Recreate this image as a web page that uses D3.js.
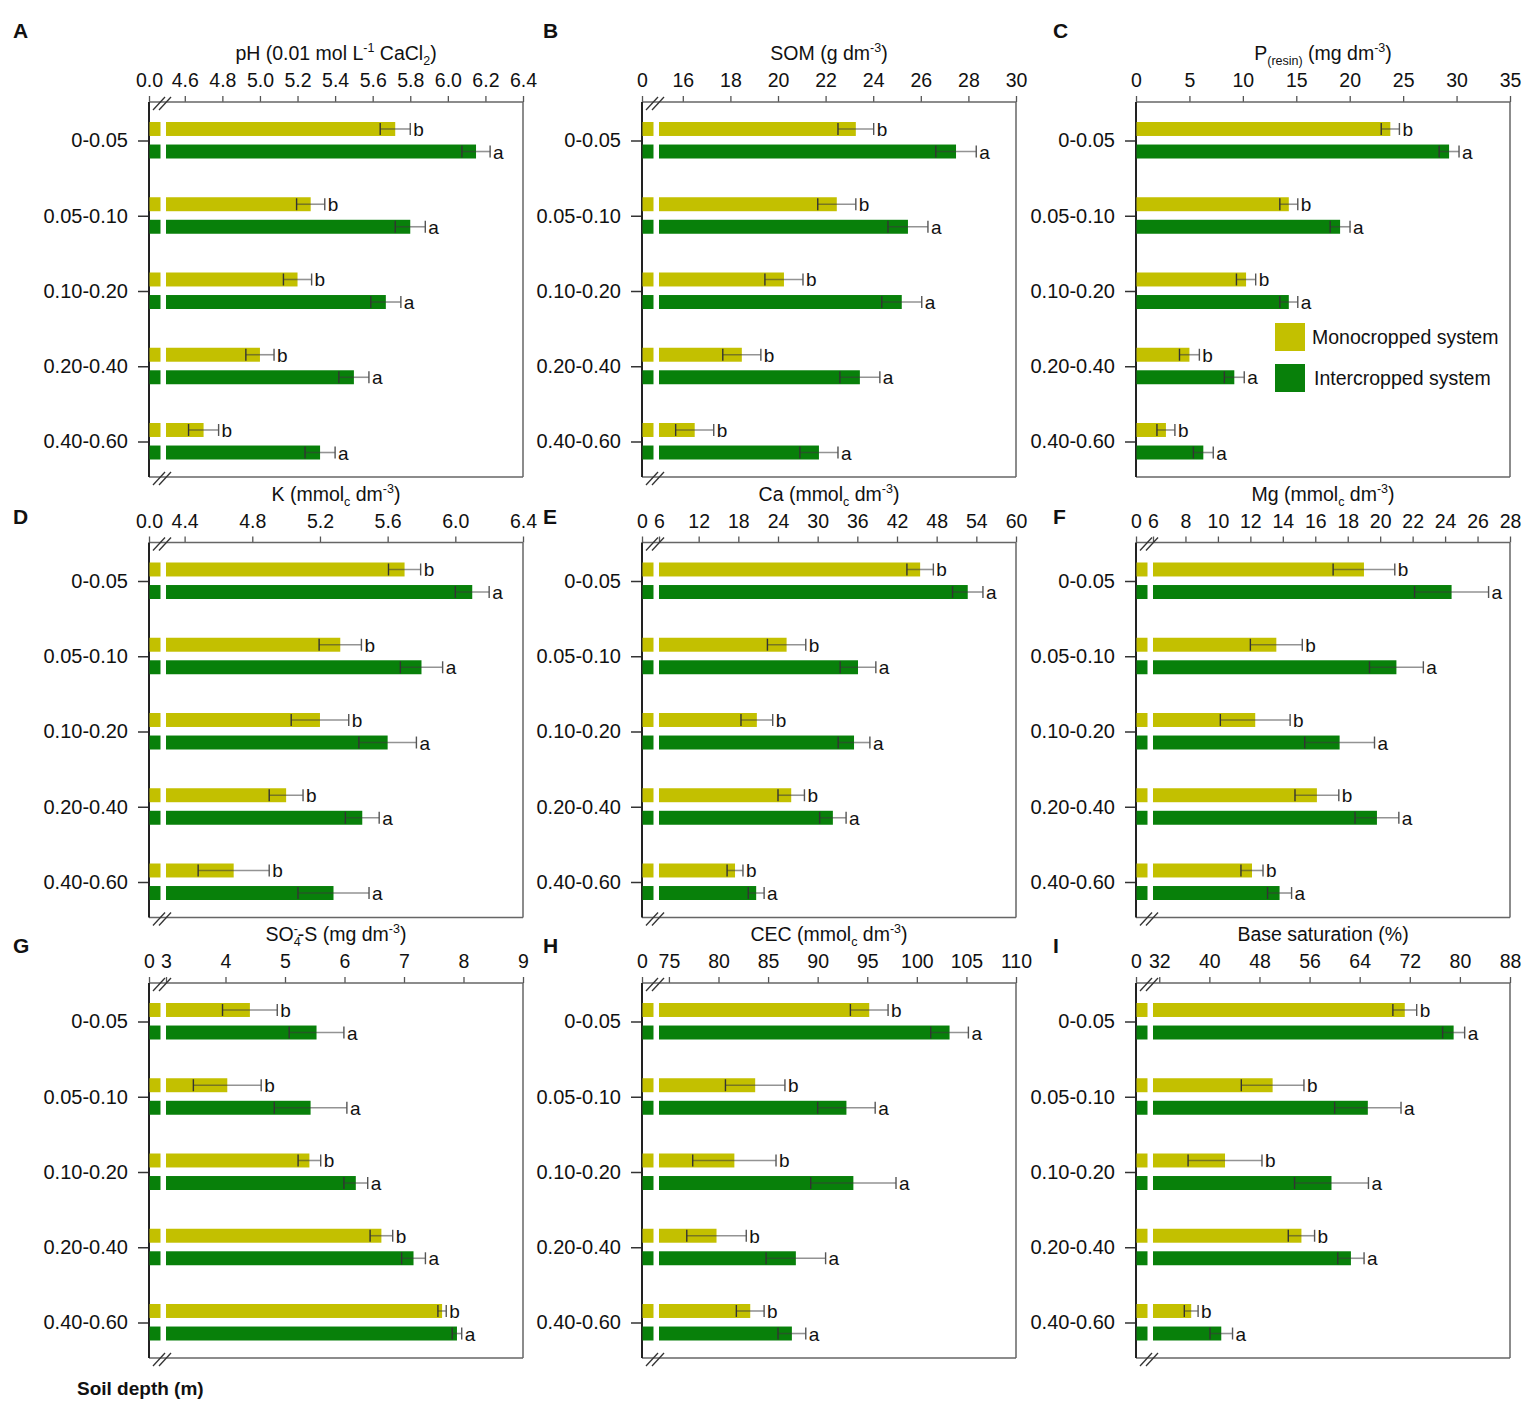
<!DOCTYPE html>
<html>
<head>
<meta charset="utf-8">
<script src="https://cdn.jsdelivr.net/npm/d3@7"></script>
<style>
  body { margin: 0; background: #fff; }
  text { font-family: "Liberation Sans", Arial, sans-serif; fill: #111; }
</style>
</head>
<body>
<div id="chart"></div>
<script>
/**
 * DATA
 * */
const depths = ["0-0.05", "0.05-0.10", "0.10-0.20", "0.20-0.40", "0.40-0.60"];
const systems = ["Monocropped system", "Intercropped system"];
const panelIds = ["A", "B", "C", "D", "E", "F", "G", "H", "I"];

// tick labels on the top axes (first entry 0 sits before the axis break)
const phTicks = [0, 4.6, 4.8, 5.0, 5.2, 5.4, 5.6, 5.8, 6.0, 6.2, 6.4];
const somTicks = [0, 16, 18, 20, 22, 24, 26, 28, 30];
const pTicks = [0, 5, 10, 15, 20, 25, 30, 35];
const kTicks = [0, 4.4, 4.8, 5.2, 5.6, 6.0, 6.4];
const caTicks = [0, 6, 12, 18, 24, 30, 36, 42, 48, 54, 60];
const mgTicks = [0, 6, 8, 10, 12, 14, 16, 18, 20, 22, 24, 26, 28];
const sTicks = [0, 3, 4, 5, 6, 7, 8, 9];
const cecTicks = [0, 75, 80, 85, 90, 95, 100, 105, 110];
const bsTicks = [0, 32, 40, 48, 56, 64, 72, 80, 88];

// value where the axis resumes after the break (null = no break)
const breakLows = [4.5, 15, null, 4.29, 6, 6, 3, 74, 31];

// means and standard errors, in depth order
const phMono = [5.72, 5.27, 5.20, 5.00, 4.70];
const phMonoSd = [0.08, 0.075, 0.075, 0.075, 0.08];
const phInter = [6.15, 5.80, 5.67, 5.50, 5.32];
const phInterSd = [0.075, 0.08, 0.08, 0.08, 0.08];

const somMono = [23.27, 22.47, 20.25, 18.48, 16.5];
const somMonoSd = [0.75, 0.8, 0.8, 0.8, 0.8];
const somInter = [27.48, 25.46, 25.2, 23.44, 21.72];
const somInterSd = [0.85, 0.84, 0.84, 0.84, 0.8];

const pMono = [23.8, 14.3, 10.3, 5.0, 2.8];
const pMonoSd = [0.85, 0.84, 0.9, 0.93, 0.84];
const pInter = [29.3, 19.1, 14.3, 9.2, 6.3];
const pInterSd = [0.93, 0.93, 0.84, 0.93, 0.93];

const kMono = [5.70, 5.32, 5.20, 5.00, 4.69];
const kMonoSd = [0.095, 0.125, 0.17, 0.1, 0.21];
const kInter = [6.10, 5.80, 5.60, 5.45, 5.28];
const kInterSd = [0.1, 0.125, 0.17, 0.1, 0.21];

const caMono = [45.5, 25.3, 20.8, 26.0, 17.5];
const caMonoSd = [2.0, 2.9, 2.4, 2.0, 1.2];
const caInter = [52.7, 36.1, 35.5, 32.3, 20.7];
const caInterSd = [2.3, 2.7, 2.4, 2.0, 1.2];

const mgMono = [19.0, 13.6, 12.3, 16.1, 12.1];
const mgMonoSd = [1.9, 1.6, 2.15, 1.35, 0.68];
const mgInter = [24.4, 21.0, 17.5, 19.8, 13.8];
const mgInterSd = [2.28, 1.66, 2.15, 1.35, 0.74];

const sMono = [4.41, 4.03, 5.41, 6.62, 7.64];
const sMonoSd = [0.46, 0.57, 0.19, 0.19, 0.07];
const sInter = [5.53, 5.43, 6.19, 7.16, 7.89];
const sInterSd = [0.46, 0.61, 0.2, 0.2, 0.08];

const cecMono = [95.2, 83.7, 81.6, 79.8, 83.2];
const cecMonoSd = [1.9, 3.0, 4.2, 3.0, 1.4];
const cecInter = [103.3, 92.9, 93.6, 87.8, 87.4];
const cecInterSd = [1.9, 2.9, 4.3, 3.0, 1.4];

const bsMono = [71.2, 50.1, 42.5, 54.7, 37.1];
const bsMonoSd = [1.9, 5.0, 5.9, 2.1, 1.1];
const bsInter = [79.0, 65.3, 59.5, 62.6, 41.9];
const bsInterSd = [1.76, 5.3, 5.9, 2.1, 1.8];

// significance letters
const monoLetters = ["b", "b", "b", "b", "b"];
const interLetters = ["a", "a", "a", "a", "a"];

// axis titles: [text, "" | "sup" | "sub" | "supback"]
const titles = [
  [["pH (0.01 mol L", ""], ["-1", "sup"], [" CaCl", ""], ["2", "sub"], [")", ""]],
  [["SOM (g dm", ""], ["-3", "sup"], [")", ""]],
  [["P", ""], ["(resin)", "sub"], [" (mg dm", ""], ["-3", "sup"], [")", ""]],
  [["K (mmol", ""], ["c", "sub"], [" dm", ""], ["-3", "sup"], [")", ""]],
  [["Ca (mmol", ""], ["c", "sub"], [" dm", ""], ["-3", "sup"], [")", ""]],
  [["Mg (mmol", ""], ["c", "sub"], [" dm", ""], ["-3", "sup"], [")", ""]],
  [["SO", ""], ["4", "sub"], ["-", "supback"], ["-S (mg dm", ""], ["-3", "sup"], [")", ""]],
  [["CEC (mmol", ""], ["c", "sub"], [" dm", ""], ["-3", "sup"], [")", ""]],
  [["Base saturation (%)", ""]]
];

const tickLists = [phTicks, somTicks, pTicks, kTicks, caTicks, mgTicks, sTicks, cecTicks, bsTicks];
const tickFormats = [".1f", "d", "d", ".1f", "d", "d", "d", "d", "d"];
const monoMeans = [phMono, somMono, pMono, kMono, caMono, mgMono, sMono, cecMono, bsMono];
const monoSds = [phMonoSd, somMonoSd, pMonoSd, kMonoSd, caMonoSd, mgMonoSd, sMonoSd, cecMonoSd, bsMonoSd];
const interMeans = [phInter, somInter, pInter, kInter, caInter, mgInter, sInter, cecInter, bsInter];
const interSds = [phInterSd, somInterSd, pInterSd, kInterSd, caInterSd, mgInterSd, sInterSd, cecInterSd, bsInterSd];

/**
 * LAYOUT
 * */
const width = 1535, height = 1411;
const colX = [149, 642, 1136];
const rowY = [102, 542.5, 983];
const letterX = [13, 543, 1053];
const letterY = [38, 524, 953];
const plotW = 374, plotH = 375;
const breakPx = 17;
const colors = { "Monocropped system": "#c3c000", "Intercropped system": "#08800a" };

const svg = d3.select("#chart").append("svg")
  .attr("width", width)
  .attr("height", height);

svg.append("rect").attr("width", width).attr("height", height).attr("fill", "#fff");

function addTitle(g, segs, cx, y) {
  const t = g.append("text")
    .attr("x", cx).attr("y", y)
    .attr("text-anchor", "middle")
    .attr("font-size", 19.5);
  let shift = 0;
  segs.forEach(([s, m]) => {
    const target = m === "sup" || m === "supback" ? -8 : m === "sub" ? 5 : 0;
    const ts = t.append("tspan").attr("dy", target - shift).text(s);
    if (m) ts.attr("font-size", 12.5);
    if (m === "supback") ts.attr("dx", -7);
    shift = target;
  });
}

panelIds.forEach((id, i) => {
  const col = i % 3, row = Math.floor(i / 3);
  const x0 = colX[col], y0 = rowY[row];
  const x1 = x0 + plotW, y1 = y0 + plotH;
  const ticks = tickLists[i];
  const low = breakLows[i];
  const max = ticks[ticks.length - 1];

  const x = low == null
    ? d3.scaleLinear().domain([0, max]).range([x0, x1])
    : d3.scaleLinear().domain([0, low, max]).range([x0, x0 + breakPx, x1]);
  const y = d3.scalePoint().domain(depths).range([y0 + 38.5, y0 + 339.5]);
  const sub = d3.scaleBand().domain(systems).range([-18.5, 18]).paddingInner(0.38);

  const g = svg.append("g");

  // panel letter
  g.append("text")
    .attr("x", letterX[col]).attr("y", letterY[row])
    .attr("font-size", 21).attr("font-weight", "bold")
    .text(id);

  addTitle(g, titles[i], (x0 + x1) / 2, y0 - 42);

  // top axis
  const xAxis = g.append("g")
    .attr("transform", `translate(0,${y0})`)
    .call(d3.axisTop(x).tickValues(ticks).tickFormat(d3.format(tickFormats[i])).tickSize(6).tickPadding(9));
  xAxis.select(".domain").remove();
  xAxis.selectAll("line").attr("stroke", "#555").attr("stroke-width", 1.3);
  xAxis.selectAll("text").attr("font-size", 19.5).attr("fill", "#111");

  // depth axis
  const yAxis = g.append("g")
    .attr("transform", `translate(${x0},0)`)
    .call(d3.axisLeft(y).tickSize(11).tickPadding(10));
  yAxis.select(".domain").remove();
  yAxis.selectAll("line").attr("stroke", "#333").attr("stroke-width", 1.5);
  yAxis.selectAll("text").attr("font-size", 20).attr("fill", "#111");

  // frame
  g.append("line").attr("x1", x0).attr("x2", x1).attr("y1", y0).attr("y2", y0)
    .attr("stroke", "#666").attr("stroke-width", 1.5);
  g.append("line").attr("x1", x0).attr("x2", x1).attr("y1", y1).attr("y2", y1)
    .attr("stroke", "#666").attr("stroke-width", 1.5);
  g.append("line").attr("x1", x1).attr("x2", x1).attr("y1", y0).attr("y2", y1)
    .attr("stroke", "#666").attr("stroke-width", 1.5);
  g.append("line").attr("x1", x0).attr("x2", x0).attr("y1", y0).attr("y2", y1)
    .attr("stroke", "#222").attr("stroke-width", 2);

  // axis break marks
  if (low != null) {
    [y0, y1].forEach(yy => {
      [0, 6].forEach(d => {
        g.append("line")
          .attr("x1", x0 + 4 + d).attr("y1", yy + 8)
          .attr("x2", x0 + 16 + d).attr("y2", yy - 5)
          .attr("stroke", "#333").attr("stroke-width", 1.3);
      });
    });
  }

  const rows = [];
  depths.forEach((dep, j) => {
    rows.push({ depth: dep, system: systems[0], mean: monoMeans[i][j], sd: monoSds[i][j], letter: monoLetters[j] });
    rows.push({ depth: dep, system: systems[1], mean: interMeans[i][j], sd: interSds[i][j], letter: interLetters[j] });
  });

  const barY = d => y(d.depth) + sub(d.system);
  const bh = sub.bandwidth();

  // short piece before the break
  if (low != null) {
    g.selectAll("rect.stub")
      .data(rows)
      .join("rect")
      .attr("class", "stub")
      .attr("x", x0 + 0.5)
      .attr("y", barY)
      .attr("width", 11)
      .attr("height", bh)
      .attr("fill", d => colors[d.system]);
  }

  g.selectAll("rect.bar")
    .data(rows)
    .join("rect")
    .attr("class", "bar")
    .attr("x", low == null ? x0 + 0.5 : x(low))
    .attr("y", barY)
    .attr("width", d => x(d.mean) - (low == null ? x0 + 0.5 : x(low)))
    .attr("height", bh)
    .attr("fill", d => colors[d.system]);

  // error bars
  const eb = g.selectAll("g.err")
    .data(rows)
    .join("g")
    .attr("class", "err")
    .attr("transform", d => `translate(0,${barY(d) + bh / 2})`);

  eb.append("line")
    .attr("x1", d => x(d.mean - d.sd))
    .attr("x2", d => x(d.mean + d.sd))
    .attr("stroke", "#3a3a3a").attr("stroke-opacity", 0.55).attr("stroke-width", 1.6);
  eb.append("line")
    .attr("x1", d => x(d.mean - d.sd)).attr("x2", d => x(d.mean - d.sd))
    .attr("y1", -bh / 2 + 1).attr("y2", bh / 2 - 1)
    .attr("stroke", "#333").attr("stroke-width", 1.4);
  eb.append("line")
    .attr("x1", d => x(d.mean + d.sd)).attr("x2", d => x(d.mean + d.sd))
    .attr("y1", -bh / 2 + 1).attr("y2", bh / 2 - 1)
    .attr("stroke", "#555").attr("stroke-width", 1.4);

  eb.append("text")
    .attr("x", d => x(d.mean + d.sd) + 3)
    .attr("y", 7)
    .attr("font-size", 19)
    .text(d => d.letter);

  // legend in panel C
  if (id === "C") {
    const lg = g.append("g").attr("transform", `translate(${x0 + 139},${y0 + 221})`);
    systems.forEach((s, k) => {
      lg.append("rect")
        .attr("x", 0).attr("y", k * 41)
        .attr("width", 30).attr("height", 28)
        .attr("fill", colors[s]);
      lg.append("text")
        .attr("x", 37 + k * 2).attr("y", k * 41 + 21)
        .attr("font-size", 19.5)
        .text(s);
    });
  }
});

svg.append("text")
  .attr("x", 77).attr("y", 1395)
  .attr("font-size", 19).attr("font-weight", "bold")
  .text("Soil depth (m)");
</script>
</body>
</html>
